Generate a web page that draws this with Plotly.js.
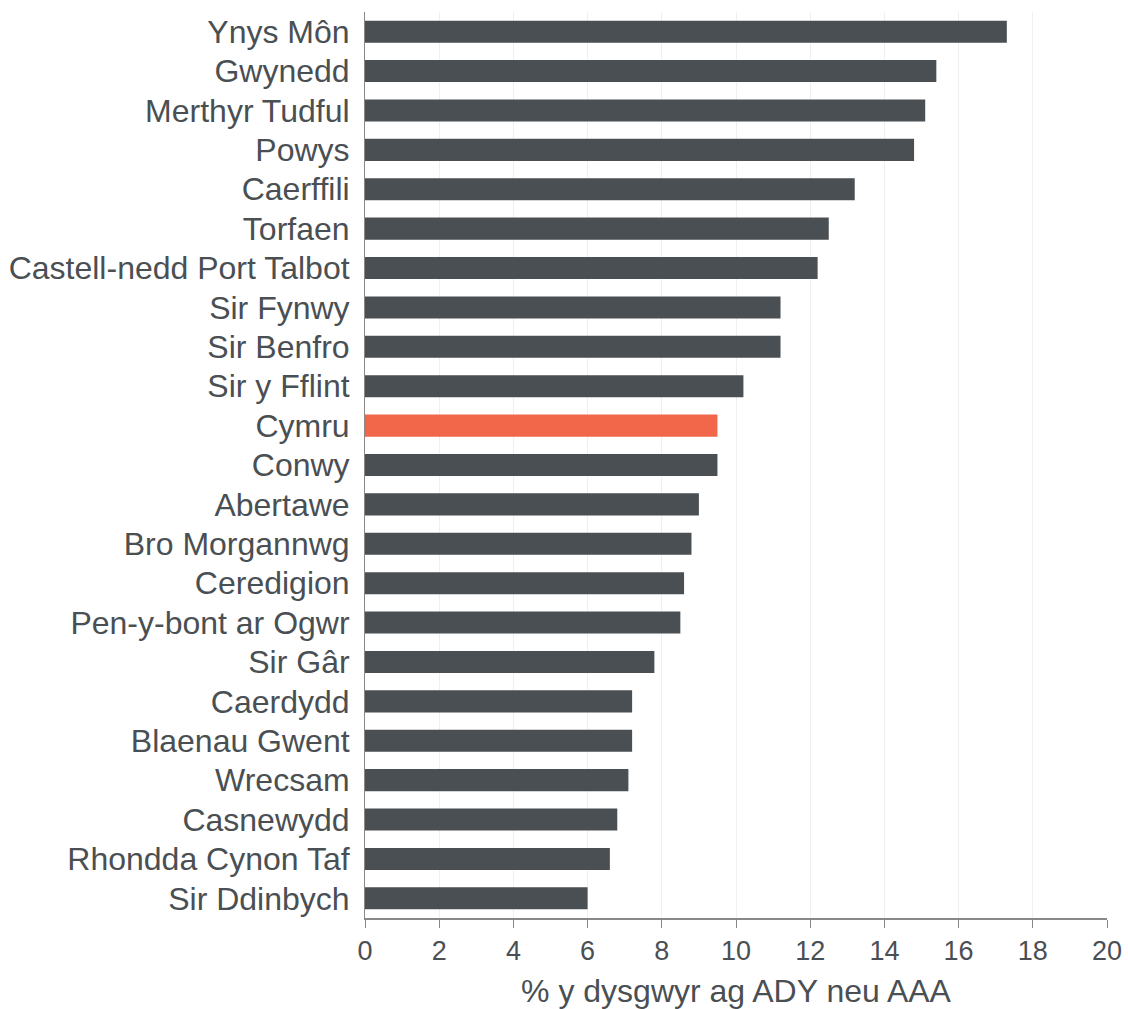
<!DOCTYPE html>
<html>
<head>
<meta charset="utf-8">
<script src="https://cdn.plot.ly/plotly-3.0.1.min.js"></script>
<style>html,body{margin:0;padding:0;background:#fff;}#chart{width:1128px;height:1009px;}</style>
</head>
<body>
<div id="chart"></div>
<script>
const categories = ["Ynys Môn","Gwynedd","Merthyr Tudful","Powys","Caerffili","Torfaen","Castell-nedd Port Talbot","Sir Fynwy","Sir Benfro","Sir y Fflint","Cymru","Conwy","Abertawe","Bro Morgannwg","Ceredigion","Pen-y-bont ar Ogwr","Sir Gâr","Caerdydd","Blaenau Gwent","Wrecsam","Casnewydd","Rhondda Cynon Taf","Sir Ddinbych"];
const values = [17.3,15.4,15.1,14.8,13.2,12.5,12.2,11.2,11.2,10.2,9.5,9.5,9.0,8.8,8.6,8.5,7.8,7.2,7.2,7.1,6.8,6.6,6.0];
const highlight = "Cymru";
const xTicks = [0,2,4,6,8,10,12,14,16,18,20];
const xTitle = "% y dysgwyr ag ADY neu AAA";

const colors = categories.map(c => c === highlight ? "#f26649" : "#4a4f53");

Plotly.newPlot("chart", [{
  type: "bar",
  orientation: "h",
  y: categories,
  x: values,
  marker: {color: colors},
  width: 0.56,
  hoverinfo: "x+y"
}], {
  width: 1128, height: 1009,
  margin: {l: 365, r: 21, t: 12, b: 91},
  paper_bgcolor: "#fff", plot_bgcolor: "#fff",
  font: {family: "'Liberation Sans', Arial, sans-serif", color: "#444"},
  showlegend: false,
  xaxis: {
    range: [0, 20],
    tickvals: xTicks,
    ticktext: xTicks.map(String),
    showgrid: true, gridcolor: "#efefef", gridwidth: 1,
    zeroline: false,
    showline: true, linecolor: "#888", linewidth: 1.5,
    ticks: "outside", ticklen: 8, tickcolor: "#888", tickwidth: 1,
    tickfont: {size: 27, color: "#4a4f53"},
    title: {text: xTitle, font: {size: 32, color: "#4a4f53"}, standoff: 16}
  },
  yaxis: {
    type: "category",
    categoryorder: "array",
    categoryarray: categories.slice().reverse(),
    autorange: false,
    range: [-0.5, categories.length - 0.5],
    showgrid: false, zeroline: false,
    showline: true, linecolor: "#888", linewidth: 1,
    ticks: "outside", ticklen: 8, tickcolor: "rgba(0,0,0,0)",
    tickfont: {size: 32, color: "#4a4f53"}
  }
}, {displayModeBar: false, staticPlot: true});
</script>
</body>
</html>
